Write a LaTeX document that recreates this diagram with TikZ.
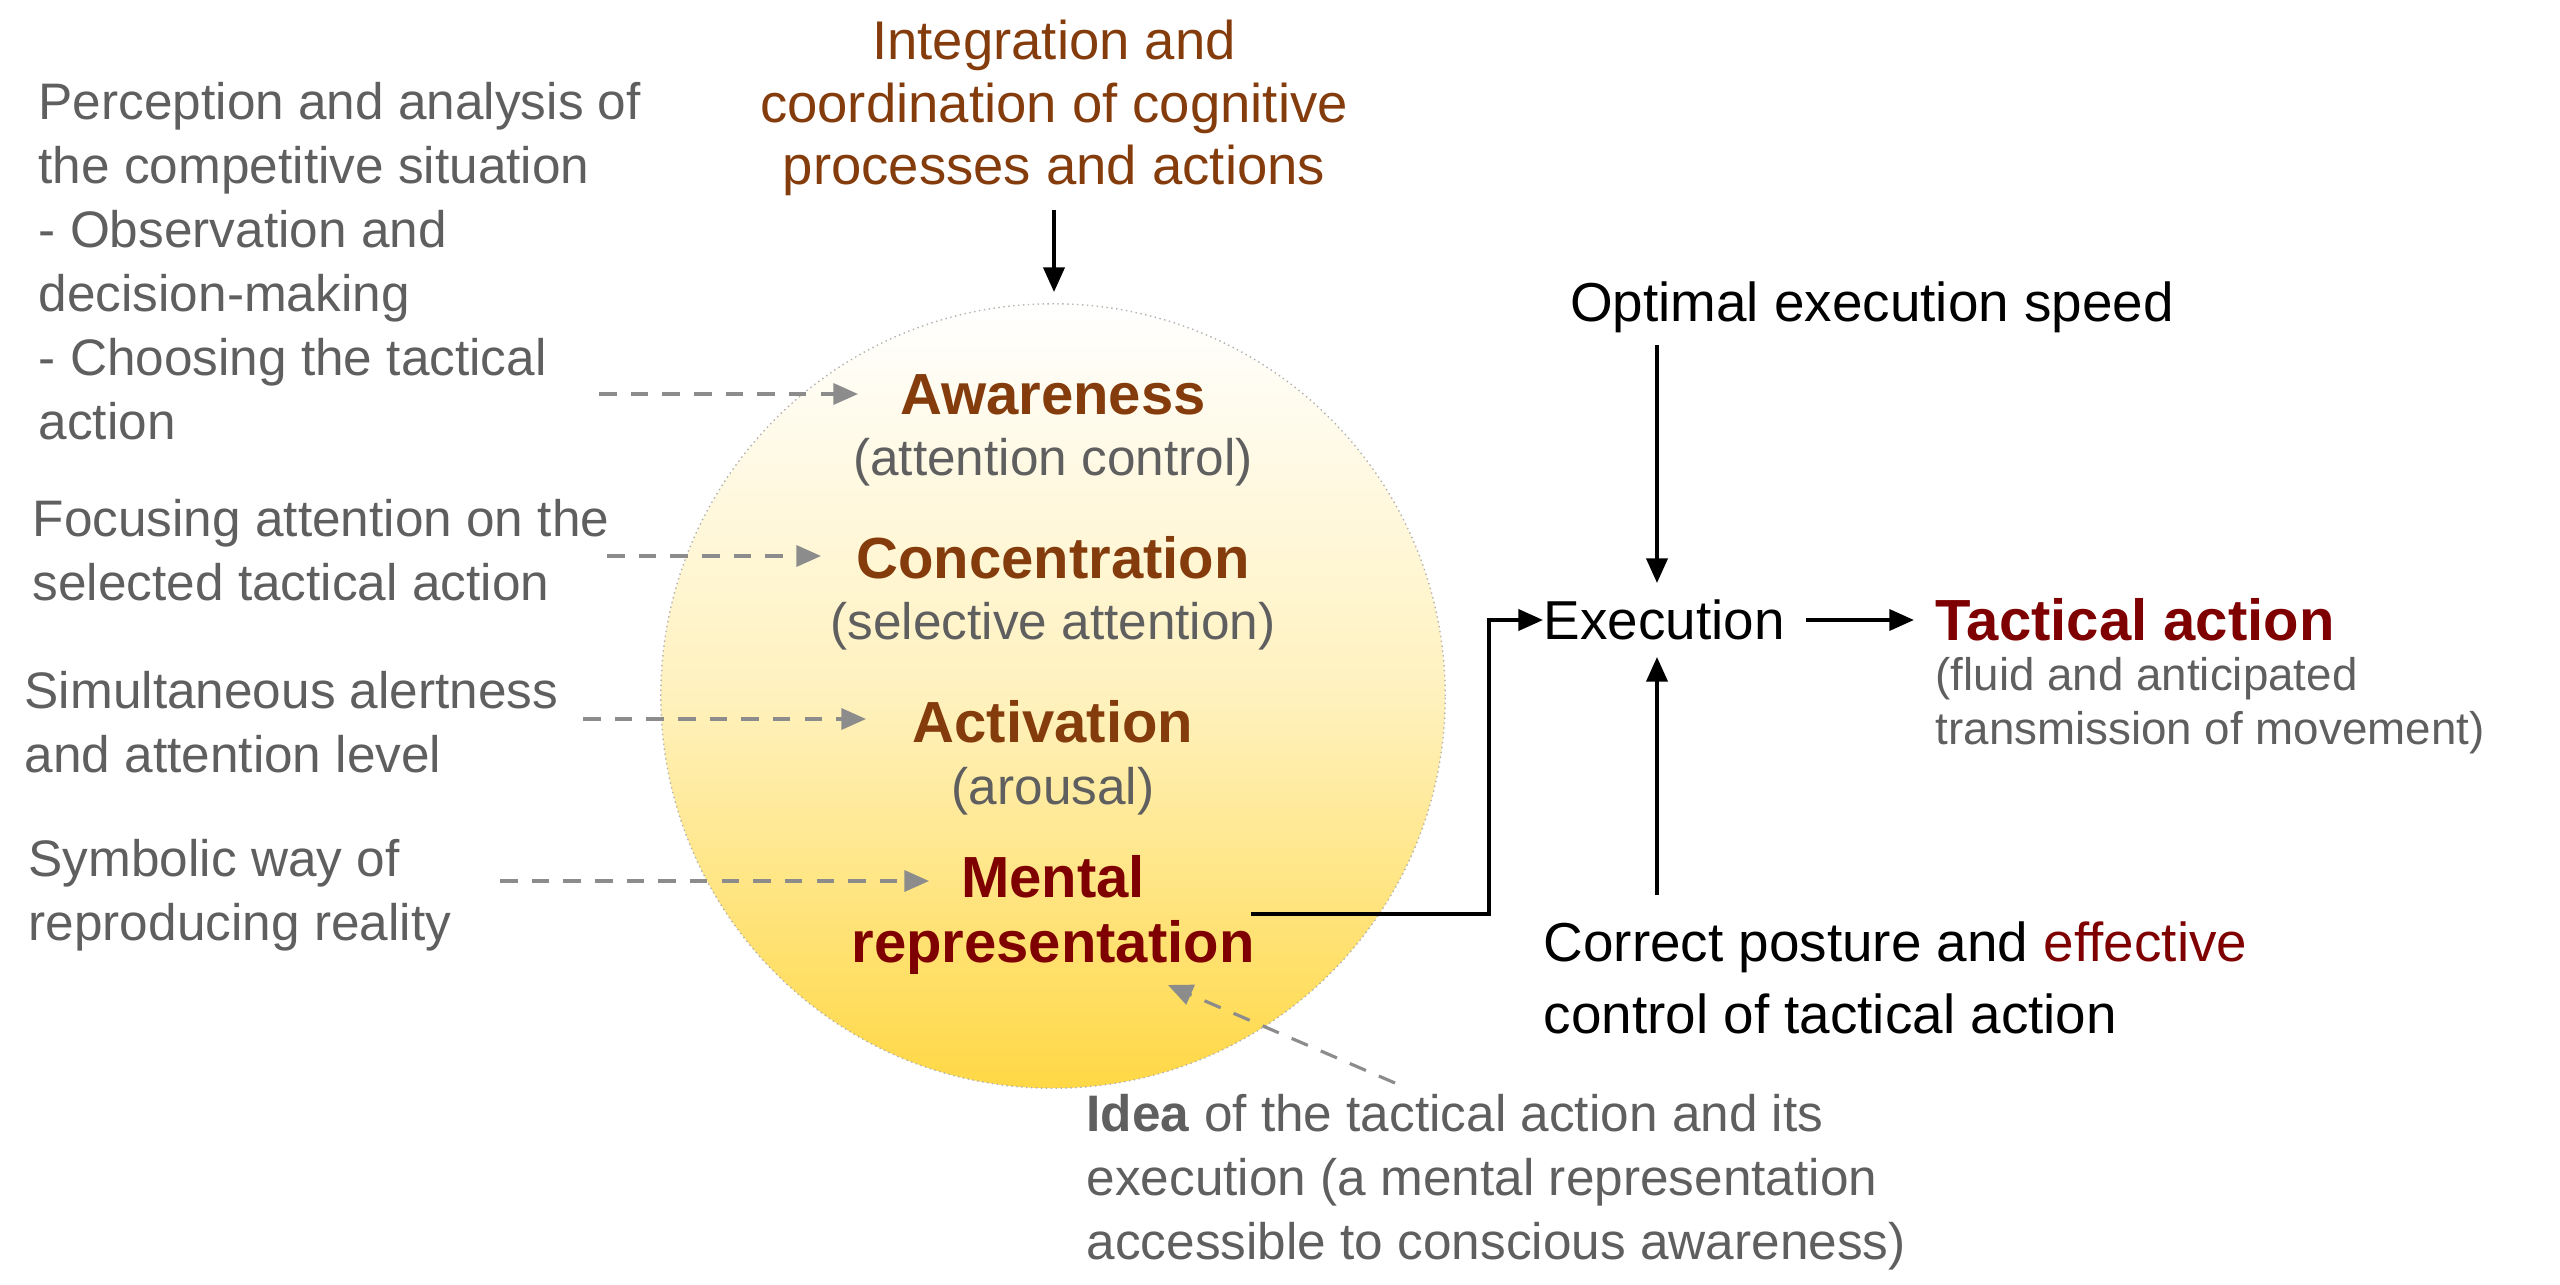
\documentclass[tikz,border=0pt]{standalone}
\usepackage{fontspec}
\setmainfont{Liberation Sans}
\usetikzlibrary{arrows.meta,positioning}
\definecolor{brownish}{HTML}{843C0C}
\definecolor{darkred}{HTML}{7F0000}
\definecolor{txtgray}{HTML}{5F5F5F}
\definecolor{gold}{HTML}{FFD845}
\begin{document}
\begin{tikzpicture}[x=0.01cm,y=-0.01cm,
    note/.style={inner sep=0pt,align=left,anchor=west,text=txtgray,
        font=\fontsize{14.6}{18.2}\selectfont},
    head/.style={inner sep=0pt,text=brownish,
        font=\fontsize{16.5}{18}\selectfont\bfseries},
    sub/.style={inner sep=0pt,text=txtgray,
        font=\fontsize{14.6}{18}\selectfont},
    plain/.style={inner sep=0pt,font=\fontsize{15.6}{20.5}\selectfont},
    hint/.style={->,>={Triangle[length=7pt,width=6pt]},dashed,
        dash pattern=on 5pt off 4pt,draw=gray!90,line width=0.9pt},
    flow/.style={->,>={Triangle[length=7pt,width=6pt]},line width=1pt}]
    \useasboundingbox (0,0) rectangle (2560,1285);
    % the circle
    \node[circle,minimum size=7.84cm,inner sep=0pt,
        draw=gray!60,densely dotted,top color=white,bottom color=gold,
        middle color=gold!35] (circ) at (1053,696) {};
    \node[align=center,inner sep=0pt,text=brownish,
        font=\fontsize{15.5}{17.7}\selectfont] (integ) at (1054,108)
        {Integration and\\coordination of cognitive\\processes and actions};
    \coordinate (itop) at (1054,210);
    \coordinate (cirtop) at (1054,292);
    \draw[flow] (itop) -- (cirtop);

    % the levels
    \node[head] (aware) at (1053,395) {Awareness};
    \node[sub] (awaresub) at (1053,462) {(attention control)};
    \node[head] (conc) at (1053,558) {Concentration};
    \node[sub] (concsub) at (1053,626) {(selective attention)};
    \node[head] (activ) at (1053,722) {Activation};
    \node[sub] (activsub) at (1053,791) {(arousal)};
    \node[head,text=darkred,align=center,
        font=\fontsize{16.5}{18.7}\selectfont\bfseries] (mental) at (1053,915)
        {Mental\\representation};

    % the notes
    \node[note] (perc) at (38,261) {Perception and analysis of\\the competitive situation\\- Observation and\\decision-making\\- Choosing the tactical\\action};
    \node[note] (focus) at (32,550) {Focusing attention on the\\selected tactical action};
    \node[note] (simul) at (24,722) {Simultaneous alertness\\and attention level};
    \node[note] (symb) at (28,895) {Symbolic way of\\reproducing reality};
    \node[note] (idea) at (1086,1182) {\textbf{Idea} of the tactical action and its\\execution (a mental representation\\accessible to conscious awareness)};

    \coordinate (h1) at (599,394);
    \coordinate (h2) at (607,556);
    \coordinate (h3) at (583,719);
    \coordinate (h4) at (500,881);
    \coordinate (h5) at (1395,1083);
    \draw[hint] (h1) -- (858,394);
    \draw[hint] (h2) -- (821,556);
    \draw[hint] (h3) -- (866,719);
    \draw[hint] (h4) -- (929,881);
    \draw[hint] (h5) -- (1168,985);

    % execution side
    \node[plain,anchor=west] (exec) at (1543,620) {Execution};
    \node[inner sep=0pt,anchor=west,text=darkred,
        font=\fontsize{16.5}{18}\selectfont\bfseries] (tact) at (1935,620) {Tactical action};
    \node[inner sep=0pt,anchor=north west,align=left,text=txtgray,
        font=\fontsize{13}{15.4}\selectfont] (tactsub) at (1935,657)
        {(fluid and anticipated\\transmission of movement)};
    \node[plain] (speed) at (1872,307) {Optimal execution speed};
    \node[plain,anchor=west,align=left] (post) at (1543,978)
        {Correct posture and \textcolor{darkred}{effective}\\control of tactical action};

    \coordinate (mentr) at (1251,914);
    \coordinate (bend) at (1489,914);
    \draw[flow] (mentr) -- (bend) |- (exec.west);
    \draw[flow] ([xshift=6pt]exec.east) -- ([xshift=-6pt]tact.west);
    \coordinate (sp) at (1657,345);
    \coordinate (ps) at (1657,895);
    \draw[flow] (sp) -- (1657,583);
    \draw[flow] (ps) -- (1657,657);
\end{tikzpicture}
\end{document}
